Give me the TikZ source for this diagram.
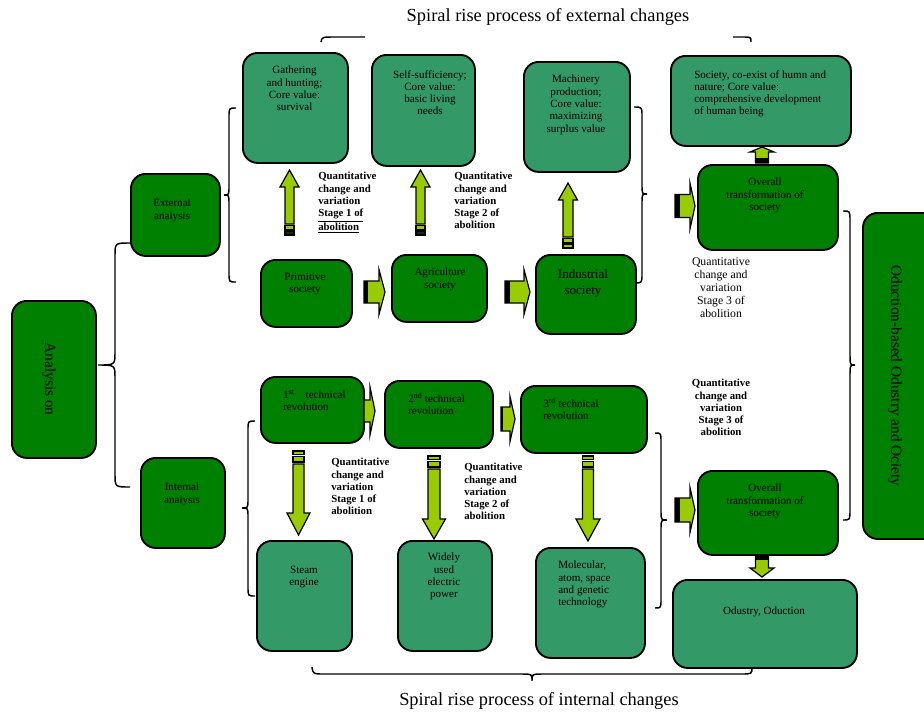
\documentclass[tikz,border=0pt]{standalone}
\usepackage{fontspec}
\setmainfont{Liberation Serif}
\definecolor{dg}{HTML}{008000}
\definecolor{lg}{HTML}{339966}
\definecolor{ag}{HTML}{99CC00}
\newcommand\bx[6]{\node[boxst,fill=#6,anchor=north west,minimum width={(#4-#2)*0.75pt},minimum height={(#5-#3)*0.75pt}] (#1) at (#2,#3) {};}
% vertical brace: xend, xline, xtip, y1, ytip, y2, r
\newcommand\vbr[7]{\draw[brst] (#1,#4) .. controls (#2,#4) .. (#2,{#4+#7}) -- (#2,{#5-#7}) .. controls (#2,#5) .. (#3,#5) .. controls (#2,#5) .. (#2,{#5+#7}) -- (#2,{#6-#7}) .. controls (#2,#6) .. (#1,#6);}
% horizontal block arrow: xtail, xblack, xhead, xtip, yc, shaft half, head half
\newcommand\harr[7]{\draw[arst] (#1,{#5-#6}) -- (#3,{#5-#6}) -- (#3,{#5-#7}) -- (#4,#5) -- (#3,{#5+#7}) -- (#3,{#5+#6}) -- (#1,{#5+#6}) -- cycle;
\fill (#1,{#5-#6}) rectangle (#2,{#5+#6});}
% vertical block arrow: xc, ytail, yhead, ytip, shaft half, head half
\newcommand\varr[6]{\draw[arst] ({#1-#5},#2) -- ({#1-#5},#3) -- ({#1-#6},#3) -- (#1,#4) -- ({#1+#6},#3) -- ({#1+#5},#3) -- ({#1+#5},#2) -- cycle;}
\newcommand\strp[5]{\draw[arst] ({#1-#2},#3) rectangle ({#1+#2},#4);}
\begin{document}
\begin{tikzpicture}[x=0.75pt,y=-0.75pt,
  boxst/.style={draw=black,line width=1.4pt,rounded corners=11pt,inner sep=0pt},
  brst/.style={draw=black,line width=1.1pt},
  arst/.style={draw=black,fill=ag,line width=0.9pt,line join=miter},
  txt/.style={inner sep=0pt,font=\fontsize{8.3}{9.2}\selectfont,align=center},
  txl/.style={txt,align=left,anchor=north west},
  qb/.style={inner sep=0pt,font=\fontsize{8.1}{9.2}\selectfont\bfseries,align=left,anchor=north west},
  ttl/.style={inner sep=0pt,font=\fontsize{13.8}{16}\selectfont}]
\useasboundingbox (0,0) rectangle (924,711);

% titles
\node[ttl] (t1) at (548,17) {Spiral rise process of external changes};
\node[ttl] (t2) at (539,701) {Spiral rise process of internal changes};

% braces
\draw[brst] (321,42) .. controls (322,37) .. (335,37) -- (365,37);
\draw[brst] (733,37) -- (742,37) .. controls (751,37) .. (751,42);
\draw[brst] (312,667) .. controls (313,674) .. (324,674) -- (522,674) .. controls (532,674) .. (532,681) .. controls (532,674) .. (542,674) -- (741,674) .. controls (752,674) .. (752,667);
\vbr{130}{115}{98}{243}{365}{487}{13}
\vbr{236}{229}{224}{108}{195}{282}{9}
\vbr{634}{642}{647}{107}{194}{283}{9}
\vbr{843}{850}{855}{211}{365}{520}{10}
\vbr{255}{248}{242}{421}{508}{596}{9}
\vbr{655}{661}{667}{433}{520}{608}{9}

% boxes
\bx{anal}{11}{300}{95}{457}{dg}
\bx{exta}{130}{173}{219}{255}{dg}
\bx{inta}{140}{457}{224}{547}{dg}
\bx{gath}{242}{52}{347}{162}{lg}
\bx{self}{371}{54}{474}{165}{lg}
\bx{mach}{523}{61}{629}{171}{lg}
\bx{soc}{670}{55}{850}{145}{lg}
\bx{prim}{260}{259}{351}{326}{dg}
\bx{agri}{391}{254}{486}{321}{dg}
\bx{ind}{535}{254}{635}{333}{dg}
\bx{ovr1}{697}{164}{837}{249}{dg}
\bx{ods}{862}{212}{950}{538}{dg}
\bx{tec1}{260}{376}{363}{442}{dg}
\bx{tec2}{384}{380}{492}{447}{dg}
\bx{tec3}{520}{385}{646}{452}{dg}
\bx{stm}{256}{540}{351}{650}{lg}
\bx{elc}{397}{540}{491}{650}{lg}
\bx{mol}{535}{547}{644}{657}{lg}
\bx{ovr2}{697}{470}{837}{554}{dg}
\bx{odu}{672}{579}{856}{667}{lg}

% box texts
\node[rotate=-90,inner sep=0pt,font=\fontsize{11.5}{13}\selectfont] (analt) at (49,379) {Analysis on};
\node[rotate=-90,inner sep=0pt,font=\fontsize{11.5}{13}\selectfont] (odst) at (895,376) {Oduction-based Odustry and Ociety};
\node[txt,anchor=north] (gatht) at (294.5,66) {Gathering\\and hunting;\\Core value:\\survival};
\node[txt,anchor=north] (selft) at (430,70) {Self-sufficiency;\\Core value:\\basic living\\needs};
\node[txt,anchor=north] (macht) at (576,75) {Machinery\\production;\\Core value:\\maximizing\\surplus value};
\node[txl] (soct) at (694,70) {Society, co-exist of humn and\\nature; Core value:\\comprehensive development\\of human being};
\node[txt,anchor=north] (extat) at (172,199) {External\\analysis};
\node[txt,anchor=north] (intat) at (182,483) {Internal\\analysis};
\node[txt,anchor=north] (primt) at (305,273) {Primitive\\society};
\node[txt,anchor=north] (agrit) at (440,268) {Agriculture\\society};
\node[txt,anchor=north,font=\fontsize{9.8}{12}\selectfont] (indt) at (583,269) {Industrial\\society};
\node[txt,anchor=north] (ovr1t) at (765,178) {Overall\\transformation of\\society};
\node[txl] (tec1t) at (283,390) {1\textsuperscript{st}\quad technical\\revolution};
\node[txl] (tec2t) at (408,393) {2\textsuperscript{nd} technical\\revolution};
\node[txl] (tec3t) at (543,398) {3\textsuperscript{rd} technical\\revolution};
\node[txt,anchor=north] (stmt) at (304,566) {Steam\\engine};
\node[txt,anchor=north] (elct) at (444,553) {Widely\\used\\electric\\power};
\node[txl] (molt) at (558,561) {Molecular,\\atom, space\\and genetic\\technology};
\node[txt,anchor=north] (ovr2t) at (765,484) {Overall\\transformation of\\society};
\node[txt,anchor=north] (odut) at (764,607) {Odustry, Oduction};

% labels
\node[qb] (q1) at (318,172) {Quantitative\\change and\\variation\\\underline{Stage 1 of}\\\underline{abolition}};
\node[qb] (q2) at (454,172) {Quantitative\\change and\\variation\\Stage 2 of\\abolition};
\node[inner sep=0pt,font=\fontsize{8.8}{9.8}\selectfont,align=center,anchor=north] (q3) at (721,257) {Quantitative\\change and\\variation\\Stage 3 of\\abolition};
\node[qb,align=center,anchor=north] (q4) at (721,379) {Quantitative\\change and\\variation\\Stage 3 of\\abolition};
\node[qb] (q5) at (331,458) {Quantitative\\change and\\variation\\Stage 1 of\\abolition};
\node[qb] (q6) at (464,463) {Quantitative\\change and\\variation\\Stage 2 of\\abolition};

% up arrows (top row)
\varr{289.5}{224}{187}{170}{4.5}{9.5}
\strp{289.5}{4.5}{225.5}{229.5}{}
\draw[arst,fill=black!80!ag] (285,231) rectangle (294,235);
\varr{420.5}{224}{187}{170}{4.5}{9.5}
\strp{420.5}{4.5}{225.5}{229.5}{}
\draw[arst,fill=black!80!ag] (416,231) rectangle (425,235);
\varr{568}{237}{200}{183}{5}{9.5}
\strp{568}{5}{238.5}{242.5}{}
\draw[arst] (563,244) rectangle (573,248);

% down arrows (bottom row)
\strp{298.5}{5.5}{451}{454.5}{}
\strp{298.5}{5.5}{456.5}{462}{}
\varr{298.5}{464}{513}{535}{5.5}{11.5}
\strp{434}{6}{456}{459.5}{}
\strp{434}{6}{461.5}{467}{}
\varr{434}{469}{519}{539}{6}{11.5}
\strp{588}{5.5}{456}{459.5}{}
\strp{588}{5.5}{461.5}{467}{}
\varr{588}{469}{519}{541}{5.5}{12}

% horizontal arrows
\harr{364}{368}{379}{385}{292}{11}{22.5}
\harr{505}{510}{524}{530}{292}{11}{22.5}
\harr{675}{680}{690}{695}{206}{11.5}{23}
\harr{675}{680}{690}{695}{510}{12}{22.5}
\harr{364}{364}{370}{375}{411}{11}{24}
\harr{501}{503}{510}{515}{419}{12}{22.5}

% small vertical arrows
\varr{762}{163}{152}{147}{6.5}{12}
\fill (755.5,158) rectangle (768.5,163);
\varr{762}{556}{568}{577}{6.5}{12}
\fill (755.5,556) rectangle (768.5,560);
\end{tikzpicture}
\end{document}
